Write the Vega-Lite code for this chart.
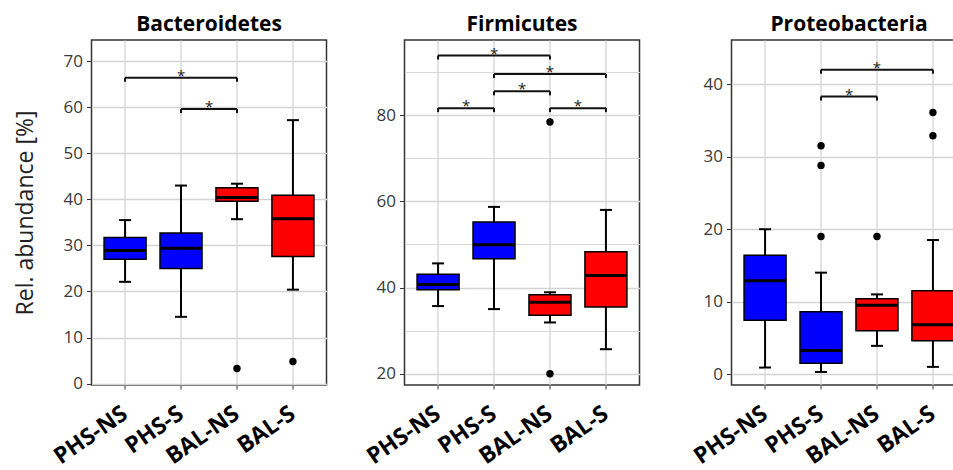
{
  "$schema": "https://vega.github.io/schema/vega-lite/v6.json",
  "padding": {"left": 12.5, "top": 13, "right": 0, "bottom": 0},
  "spacing": 20,
  "bounds": "full",
  "config": {
    "font": "Open Sans",
    "view": {"stroke": "#333333", "strokeWidth": 1.5},
    "axis": {"domain": false, "gridColor": "#d4d4d4", "tickColor": "#333333", "labelFont": "Open Sans", "titleFont": "Open Sans"},
    "axisX": {"labelAngle": -35, "labelAlign": "right", "labelBaseline": "middle", "labelPadding": 22, "labelFontSize": 23, "labelFontWeight": "bold", "labelColor": "#000000", "tickSize": 4, "gridWidth": 1.3},
    "axisY": {"tickSize": 5, "labelPadding": 4, "labelFontSize": 17, "labelColor": "#3a3a3a", "titleFontSize": 23, "titleFontWeight": "normal", "titleColor": "#222222", "labelOverlap": false},
    "title": {"font": "Open Sans", "fontSize": 21, "fontWeight": "bold", "color": "#000000", "baseline": "alphabetic", "offset": 5, "anchor": "middle"}
  },
  "datasets": {
    "boxes": [
      {"phylum": "Bacteroidetes", "group": "PHS-NS", "site": "PHS", "lower": 22.1, "q1": 27.0, "median": 28.9, "q3": 31.7, "upper": 35.5},
      {"phylum": "Bacteroidetes", "group": "PHS-S", "site": "PHS", "lower": 14.5, "q1": 25.0, "median": 29.4, "q3": 32.7, "upper": 43.0},
      {"phylum": "Bacteroidetes", "group": "BAL-NS", "site": "BAL", "lower": 35.7, "q1": 39.6, "median": 40.4, "q3": 42.5, "upper": 43.4},
      {"phylum": "Bacteroidetes", "group": "BAL-S", "site": "BAL", "lower": 20.4, "q1": 27.6, "median": 35.8, "q3": 40.9, "upper": 57.2},
      {"phylum": "Firmicutes", "group": "PHS-NS", "site": "PHS", "lower": 35.7, "q1": 39.5, "median": 40.7, "q3": 43.1, "upper": 45.6},
      {"phylum": "Firmicutes", "group": "PHS-S", "site": "PHS", "lower": 35.0, "q1": 46.7, "median": 49.9, "q3": 55.2, "upper": 58.7},
      {"phylum": "Firmicutes", "group": "BAL-NS", "site": "BAL", "lower": 31.9, "q1": 33.6, "median": 36.6, "q3": 38.3, "upper": 38.9},
      {"phylum": "Firmicutes", "group": "BAL-S", "site": "BAL", "lower": 25.7, "q1": 35.5, "median": 42.8, "q3": 48.3, "upper": 58.0},
      {"phylum": "Proteobacteria", "group": "PHS-NS", "site": "PHS", "lower": 0.9, "q1": 7.45, "median": 12.9, "q3": 16.4, "upper": 20.0},
      {"phylum": "Proteobacteria", "group": "PHS-S", "site": "PHS", "lower": 0.3, "q1": 1.5, "median": 3.25, "q3": 8.6, "upper": 14.0},
      {"phylum": "Proteobacteria", "group": "BAL-NS", "site": "BAL", "lower": 3.9, "q1": 6.0, "median": 9.5, "q3": 10.4, "upper": 11.0},
      {"phylum": "Proteobacteria", "group": "BAL-S", "site": "BAL", "lower": 1.0, "q1": 4.6, "median": 6.8, "q3": 11.5, "upper": 18.5}
    ],
    "outliers": [
      {"phylum": "Bacteroidetes", "group": "BAL-NS", "value": 3.3},
      {"phylum": "Bacteroidetes", "group": "BAL-S", "value": 4.8},
      {"phylum": "Firmicutes", "group": "BAL-NS", "value": 20.0},
      {"phylum": "Firmicutes", "group": "BAL-NS", "value": 78.4},
      {"phylum": "Proteobacteria", "group": "PHS-S", "value": 19.0},
      {"phylum": "Proteobacteria", "group": "PHS-S", "value": 28.8},
      {"phylum": "Proteobacteria", "group": "PHS-S", "value": 31.5},
      {"phylum": "Proteobacteria", "group": "BAL-NS", "value": 19.0},
      {"phylum": "Proteobacteria", "group": "BAL-S", "value": 32.9},
      {"phylum": "Proteobacteria", "group": "BAL-S", "value": 36.1}
    ],
    "brackets": [
      {"phylum": "Bacteroidetes", "from": "PHS-NS", "to": "BAL-NS", "y": 66.4, "span": 2},
      {"phylum": "Bacteroidetes", "from": "PHS-S", "to": "BAL-NS", "y": 59.6, "span": 1},
      {"phylum": "Firmicutes", "from": "PHS-NS", "to": "BAL-NS", "y": 93.8, "span": 2},
      {"phylum": "Firmicutes", "from": "PHS-S", "to": "BAL-S", "y": 89.5, "span": 2},
      {"phylum": "Firmicutes", "from": "PHS-S", "to": "BAL-NS", "y": 85.5, "span": 1},
      {"phylum": "Firmicutes", "from": "PHS-NS", "to": "PHS-S", "y": 81.6, "span": 1},
      {"phylum": "Firmicutes", "from": "BAL-NS", "to": "BAL-S", "y": 81.6, "span": 1},
      {"phylum": "Proteobacteria", "from": "PHS-S", "to": "BAL-S", "y": 42.0, "span": 2},
      {"phylum": "Proteobacteria", "from": "PHS-S", "to": "BAL-NS", "y": 38.3, "span": 1}
    ]
  },
  "hconcat": [
    {
      "width": 235, "height": 345,
      "title": {"text": "Bacteroidetes"},
      "layer": [
        {"data": {"name": "boxes"}, "transform": [{"filter": "datum.phylum === 'Bacteroidetes'"}],
         "mark": {"type": "rule", "strokeWidth": 2, "color": "#000000"},
         "encoding": {
           "x": {"field": "group", "type": "nominal", "scale": {"domain": ["PHS-NS", "PHS-S", "BAL-NS", "BAL-S"], "paddingInner": 0, "paddingOuter": 0.1}, "axis": {"title": null, "grid": true, "bandPosition": 0.5}},
           "y": {"field": "lower", "type": "quantitative", "scale": {"domain": [-0.3, 74.6], "nice": false, "zero": false},
                 "axis": {"title": "Rel. abundance [%]", "titlePadding": 26, "grid": true, "values": [0, 5, 10, 15, 20, 25, 30, 35, 40, 45, 50, 55, 60, 65, 70],
                          "labelExpr": "datum.value % 10 === 0 ? datum.label : ''",
                          "tickOpacity": {"condition": {"test": "datum.value % 10 === 0", "value": 1}, "value": 0},
                          "gridWidth": {"condition": {"test": "datum.value % 10 === 0", "value": 1.3}, "value": 0.9}}},
           "y2": {"field": "upper"}
         }},
        {"data": {"name": "boxes"}, "transform": [{"filter": "datum.phylum === 'Bacteroidetes'"}],
         "mark": {"type": "tick", "size": 12, "thickness": 2, "color": "#000000", "opacity": 1},
         "encoding": {
           "x": {"field": "group", "type": "nominal", "scale": {"domain": ["PHS-NS", "PHS-S", "BAL-NS", "BAL-S"], "paddingInner": 0, "paddingOuter": 0.1}},
           "y": {"field": "lower", "type": "quantitative", "scale": {"domain": [-0.3, 74.6], "nice": false, "zero": false}}
         }},
        {"data": {"name": "boxes"}, "transform": [{"filter": "datum.phylum === 'Bacteroidetes'"}],
         "mark": {"type": "tick", "size": 12, "thickness": 2, "color": "#000000", "opacity": 1},
         "encoding": {
           "x": {"field": "group", "type": "nominal", "scale": {"domain": ["PHS-NS", "PHS-S", "BAL-NS", "BAL-S"], "paddingInner": 0, "paddingOuter": 0.1}},
           "y": {"field": "upper", "type": "quantitative", "scale": {"domain": [-0.3, 74.6], "nice": false, "zero": false}}
         }},
        {"data": {"name": "boxes"}, "transform": [{"filter": "datum.phylum === 'Bacteroidetes'"}],
         "mark": {"type": "bar", "size": 42, "stroke": "#000000", "strokeWidth": 1.5, "opacity": 1},
         "encoding": {
           "x": {"field": "group", "type": "nominal", "scale": {"domain": ["PHS-NS", "PHS-S", "BAL-NS", "BAL-S"], "paddingInner": 0, "paddingOuter": 0.1}},
           "y": {"field": "q1", "type": "quantitative", "scale": {"domain": [-0.3, 74.6], "nice": false, "zero": false}},
           "y2": {"field": "q3"},
           "fill": {"field": "site", "type": "nominal", "scale": {"domain": ["PHS", "BAL"], "range": ["#0000FF", "#FF0000"]}, "legend": null}
         }},
        {"data": {"name": "boxes"}, "transform": [{"filter": "datum.phylum === 'Bacteroidetes'"}],
         "mark": {"type": "tick", "size": 42, "thickness": 3, "color": "#000000", "opacity": 1},
         "encoding": {
           "x": {"field": "group", "type": "nominal", "scale": {"domain": ["PHS-NS", "PHS-S", "BAL-NS", "BAL-S"], "paddingInner": 0, "paddingOuter": 0.1}},
           "y": {"field": "median", "type": "quantitative", "scale": {"domain": [-0.3, 74.6], "nice": false, "zero": false}}
         }},
        {"data": {"name": "outliers"}, "transform": [{"filter": "datum.phylum === 'Bacteroidetes'"}],
         "mark": {"type": "point", "filled": true, "size": 55, "color": "#000000", "opacity": 1},
         "encoding": {
           "x": {"field": "group", "type": "nominal", "scale": {"domain": ["PHS-NS", "PHS-S", "BAL-NS", "BAL-S"], "paddingInner": 0, "paddingOuter": 0.1}},
           "y": {"field": "value", "type": "quantitative", "scale": {"domain": [-0.3, 74.6], "nice": false, "zero": false}}
         }},
        {"data": {"name": "brackets"}, "transform": [{"filter": "datum.phylum === 'Bacteroidetes'"}],
         "mark": {"type": "rule", "strokeWidth": 2, "color": "#111111"},
         "encoding": {
           "x": {"field": "from", "type": "nominal", "bandPosition": 0.5, "scale": {"domain": ["PHS-NS", "PHS-S", "BAL-NS", "BAL-S"], "paddingInner": 0, "paddingOuter": 0.1}},
           "x2": {"field": "to", "bandPosition": 0.5},
           "y": {"field": "y", "type": "quantitative", "scale": {"domain": [-0.3, 74.6], "nice": false, "zero": false}}
         }},
        {"data": {"name": "brackets"}, "transform": [{"filter": "datum.phylum === 'Bacteroidetes'"}],
         "mark": {"type": "rule", "strokeWidth": 2, "color": "#111111", "y2Offset": 4},
         "encoding": {
           "x": {"field": "from", "type": "nominal", "bandPosition": 0.5, "scale": {"domain": ["PHS-NS", "PHS-S", "BAL-NS", "BAL-S"], "paddingInner": 0, "paddingOuter": 0.1}},
           "y": {"field": "y", "type": "quantitative", "scale": {"domain": [-0.3, 74.6], "nice": false, "zero": false}},
           "y2": {"field": "y"}
         }},
        {"data": {"name": "brackets"}, "transform": [{"filter": "datum.phylum === 'Bacteroidetes'"}],
         "mark": {"type": "rule", "strokeWidth": 2, "color": "#111111", "y2Offset": 4},
         "encoding": {
           "x": {"field": "to", "type": "nominal", "bandPosition": 0.5, "scale": {"domain": ["PHS-NS", "PHS-S", "BAL-NS", "BAL-S"], "paddingInner": 0, "paddingOuter": 0.1}},
           "y": {"field": "y", "type": "quantitative", "scale": {"domain": [-0.3, 74.6], "nice": false, "zero": false}},
           "y2": {"field": "y"}
         }},
        {"data": {"name": "brackets"}, "transform": [{"filter": "datum.phylum === 'Bacteroidetes' && datum.span === 1"}],
         "mark": {"type": "text", "text": "*", "fontSize": 15, "color": "#222222", "baseline": "alphabetic", "dy": 3},
         "encoding": {
           "x": {"field": "from", "type": "nominal", "bandPosition": 1, "scale": {"domain": ["PHS-NS", "PHS-S", "BAL-NS", "BAL-S"], "paddingInner": 0, "paddingOuter": 0.1}},
           "y": {"field": "y", "type": "quantitative", "scale": {"domain": [-0.3, 74.6], "nice": false, "zero": false}}
         }},
        {"data": {"name": "brackets"}, "transform": [{"filter": "datum.phylum === 'Bacteroidetes' && datum.span === 2"}],
         "mark": {"type": "text", "text": "*", "fontSize": 15, "color": "#222222", "baseline": "alphabetic", "dy": 3},
         "encoding": {
           "x": {"field": "from", "type": "nominal", "bandPosition": 1.5, "scale": {"domain": ["PHS-NS", "PHS-S", "BAL-NS", "BAL-S"], "paddingInner": 0, "paddingOuter": 0.1}},
           "y": {"field": "y", "type": "quantitative", "scale": {"domain": [-0.3, 74.6], "nice": false, "zero": false}}
         }}
      ]
    },
    {
      "width": 235, "height": 345,
      "title": {"text": "Firmicutes"},
      "layer": [
        {"data": {"name": "boxes"}, "transform": [{"filter": "datum.phylum === 'Firmicutes'"}],
         "mark": {"type": "rule", "strokeWidth": 2, "color": "#000000"},
         "encoding": {
           "x": {"field": "group", "type": "nominal", "scale": {"domain": ["PHS-NS", "PHS-S", "BAL-NS", "BAL-S"], "paddingInner": 0, "paddingOuter": 0.1}, "axis": {"title": null, "grid": true, "bandPosition": 0.5}},
           "y": {"field": "lower", "type": "quantitative", "scale": {"domain": [17.4, 97.4], "nice": false, "zero": false},
                 "axis": {"title": null, "minExtent": 56, "grid": true, "values": [20, 30, 40, 50, 60, 70, 80, 90],
                          "labelExpr": "datum.value % 20 === 0 ? datum.label : ''",
                          "tickOpacity": {"condition": {"test": "datum.value % 20 === 0", "value": 1}, "value": 0},
                          "gridWidth": {"condition": {"test": "datum.value % 20 === 0", "value": 1.3}, "value": 0.9}}},
           "y2": {"field": "upper"}
         }},
        {"data": {"name": "boxes"}, "transform": [{"filter": "datum.phylum === 'Firmicutes'"}],
         "mark": {"type": "tick", "size": 12, "thickness": 2, "color": "#000000", "opacity": 1},
         "encoding": {
           "x": {"field": "group", "type": "nominal", "scale": {"domain": ["PHS-NS", "PHS-S", "BAL-NS", "BAL-S"], "paddingInner": 0, "paddingOuter": 0.1}},
           "y": {"field": "lower", "type": "quantitative", "scale": {"domain": [17.4, 97.4], "nice": false, "zero": false}}
         }},
        {"data": {"name": "boxes"}, "transform": [{"filter": "datum.phylum === 'Firmicutes'"}],
         "mark": {"type": "tick", "size": 12, "thickness": 2, "color": "#000000", "opacity": 1},
         "encoding": {
           "x": {"field": "group", "type": "nominal", "scale": {"domain": ["PHS-NS", "PHS-S", "BAL-NS", "BAL-S"], "paddingInner": 0, "paddingOuter": 0.1}},
           "y": {"field": "upper", "type": "quantitative", "scale": {"domain": [17.4, 97.4], "nice": false, "zero": false}}
         }},
        {"data": {"name": "boxes"}, "transform": [{"filter": "datum.phylum === 'Firmicutes'"}],
         "mark": {"type": "bar", "size": 42, "stroke": "#000000", "strokeWidth": 1.5, "opacity": 1},
         "encoding": {
           "x": {"field": "group", "type": "nominal", "scale": {"domain": ["PHS-NS", "PHS-S", "BAL-NS", "BAL-S"], "paddingInner": 0, "paddingOuter": 0.1}},
           "y": {"field": "q1", "type": "quantitative", "scale": {"domain": [17.4, 97.4], "nice": false, "zero": false}},
           "y2": {"field": "q3"},
           "fill": {"field": "site", "type": "nominal", "scale": {"domain": ["PHS", "BAL"], "range": ["#0000FF", "#FF0000"]}, "legend": null}
         }},
        {"data": {"name": "boxes"}, "transform": [{"filter": "datum.phylum === 'Firmicutes'"}],
         "mark": {"type": "tick", "size": 42, "thickness": 3, "color": "#000000", "opacity": 1},
         "encoding": {
           "x": {"field": "group", "type": "nominal", "scale": {"domain": ["PHS-NS", "PHS-S", "BAL-NS", "BAL-S"], "paddingInner": 0, "paddingOuter": 0.1}},
           "y": {"field": "median", "type": "quantitative", "scale": {"domain": [17.4, 97.4], "nice": false, "zero": false}}
         }},
        {"data": {"name": "outliers"}, "transform": [{"filter": "datum.phylum === 'Firmicutes'"}],
         "mark": {"type": "point", "filled": true, "size": 55, "color": "#000000", "opacity": 1},
         "encoding": {
           "x": {"field": "group", "type": "nominal", "scale": {"domain": ["PHS-NS", "PHS-S", "BAL-NS", "BAL-S"], "paddingInner": 0, "paddingOuter": 0.1}},
           "y": {"field": "value", "type": "quantitative", "scale": {"domain": [17.4, 97.4], "nice": false, "zero": false}}
         }},
        {"data": {"name": "brackets"}, "transform": [{"filter": "datum.phylum === 'Firmicutes'"}],
         "mark": {"type": "rule", "strokeWidth": 2, "color": "#111111"},
         "encoding": {
           "x": {"field": "from", "type": "nominal", "bandPosition": 0.5, "scale": {"domain": ["PHS-NS", "PHS-S", "BAL-NS", "BAL-S"], "paddingInner": 0, "paddingOuter": 0.1}},
           "x2": {"field": "to", "bandPosition": 0.5},
           "y": {"field": "y", "type": "quantitative", "scale": {"domain": [17.4, 97.4], "nice": false, "zero": false}}
         }},
        {"data": {"name": "brackets"}, "transform": [{"filter": "datum.phylum === 'Firmicutes'"}],
         "mark": {"type": "rule", "strokeWidth": 2, "color": "#111111", "y2Offset": 4},
         "encoding": {
           "x": {"field": "from", "type": "nominal", "bandPosition": 0.5, "scale": {"domain": ["PHS-NS", "PHS-S", "BAL-NS", "BAL-S"], "paddingInner": 0, "paddingOuter": 0.1}},
           "y": {"field": "y", "type": "quantitative", "scale": {"domain": [17.4, 97.4], "nice": false, "zero": false}},
           "y2": {"field": "y"}
         }},
        {"data": {"name": "brackets"}, "transform": [{"filter": "datum.phylum === 'Firmicutes'"}],
         "mark": {"type": "rule", "strokeWidth": 2, "color": "#111111", "y2Offset": 4},
         "encoding": {
           "x": {"field": "to", "type": "nominal", "bandPosition": 0.5, "scale": {"domain": ["PHS-NS", "PHS-S", "BAL-NS", "BAL-S"], "paddingInner": 0, "paddingOuter": 0.1}},
           "y": {"field": "y", "type": "quantitative", "scale": {"domain": [17.4, 97.4], "nice": false, "zero": false}},
           "y2": {"field": "y"}
         }},
        {"data": {"name": "brackets"}, "transform": [{"filter": "datum.phylum === 'Firmicutes' && datum.span === 1"}],
         "mark": {"type": "text", "text": "*", "fontSize": 15, "color": "#222222", "baseline": "alphabetic", "dy": 3},
         "encoding": {
           "x": {"field": "from", "type": "nominal", "bandPosition": 1, "scale": {"domain": ["PHS-NS", "PHS-S", "BAL-NS", "BAL-S"], "paddingInner": 0, "paddingOuter": 0.1}},
           "y": {"field": "y", "type": "quantitative", "scale": {"domain": [17.4, 97.4], "nice": false, "zero": false}}
         }},
        {"data": {"name": "brackets"}, "transform": [{"filter": "datum.phylum === 'Firmicutes' && datum.span === 2"}],
         "mark": {"type": "text", "text": "*", "fontSize": 15, "color": "#222222", "baseline": "alphabetic", "dy": 3},
         "encoding": {
           "x": {"field": "from", "type": "nominal", "bandPosition": 1.5, "scale": {"domain": ["PHS-NS", "PHS-S", "BAL-NS", "BAL-S"], "paddingInner": 0, "paddingOuter": 0.1}},
           "y": {"field": "y", "type": "quantitative", "scale": {"domain": [17.4, 97.4], "nice": false, "zero": false}}
         }}
      ]
    },
    {
      "width": 235, "height": 345,
      "title": {"text": "Proteobacteria"},
      "layer": [
        {"data": {"name": "boxes"}, "transform": [{"filter": "datum.phylum === 'Proteobacteria'"}],
         "mark": {"type": "rule", "strokeWidth": 2, "color": "#000000"},
         "encoding": {
           "x": {"field": "group", "type": "nominal", "scale": {"domain": ["PHS-NS", "PHS-S", "BAL-NS", "BAL-S"], "paddingInner": 0, "paddingOuter": 0.1}, "axis": {"title": null, "grid": true, "bandPosition": 0.5}},
           "y": {"field": "lower", "type": "quantitative", "scale": {"domain": [-1.5, 46.1], "nice": false, "zero": false},
                 "axis": {"title": null, "minExtent": 70, "grid": true, "values": [0, 5, 10, 15, 20, 25, 30, 35, 40, 45],
                          "labelExpr": "datum.value % 10 === 0 ? datum.label : ''",
                          "tickOpacity": {"condition": {"test": "datum.value % 10 === 0", "value": 1}, "value": 0},
                          "gridWidth": {"condition": {"test": "datum.value % 10 === 0", "value": 1.3}, "value": 0.9}}},
           "y2": {"field": "upper"}
         }},
        {"data": {"name": "boxes"}, "transform": [{"filter": "datum.phylum === 'Proteobacteria'"}],
         "mark": {"type": "tick", "size": 12, "thickness": 2, "color": "#000000", "opacity": 1},
         "encoding": {
           "x": {"field": "group", "type": "nominal", "scale": {"domain": ["PHS-NS", "PHS-S", "BAL-NS", "BAL-S"], "paddingInner": 0, "paddingOuter": 0.1}},
           "y": {"field": "lower", "type": "quantitative", "scale": {"domain": [-1.5, 46.1], "nice": false, "zero": false}}
         }},
        {"data": {"name": "boxes"}, "transform": [{"filter": "datum.phylum === 'Proteobacteria'"}],
         "mark": {"type": "tick", "size": 12, "thickness": 2, "color": "#000000", "opacity": 1},
         "encoding": {
           "x": {"field": "group", "type": "nominal", "scale": {"domain": ["PHS-NS", "PHS-S", "BAL-NS", "BAL-S"], "paddingInner": 0, "paddingOuter": 0.1}},
           "y": {"field": "upper", "type": "quantitative", "scale": {"domain": [-1.5, 46.1], "nice": false, "zero": false}}
         }},
        {"data": {"name": "boxes"}, "transform": [{"filter": "datum.phylum === 'Proteobacteria'"}],
         "mark": {"type": "bar", "size": 42, "stroke": "#000000", "strokeWidth": 1.5, "opacity": 1},
         "encoding": {
           "x": {"field": "group", "type": "nominal", "scale": {"domain": ["PHS-NS", "PHS-S", "BAL-NS", "BAL-S"], "paddingInner": 0, "paddingOuter": 0.1}},
           "y": {"field": "q1", "type": "quantitative", "scale": {"domain": [-1.5, 46.1], "nice": false, "zero": false}},
           "y2": {"field": "q3"},
           "fill": {"field": "site", "type": "nominal", "scale": {"domain": ["PHS", "BAL"], "range": ["#0000FF", "#FF0000"]}, "legend": null}
         }},
        {"data": {"name": "boxes"}, "transform": [{"filter": "datum.phylum === 'Proteobacteria'"}],
         "mark": {"type": "tick", "size": 42, "thickness": 3, "color": "#000000", "opacity": 1},
         "encoding": {
           "x": {"field": "group", "type": "nominal", "scale": {"domain": ["PHS-NS", "PHS-S", "BAL-NS", "BAL-S"], "paddingInner": 0, "paddingOuter": 0.1}},
           "y": {"field": "median", "type": "quantitative", "scale": {"domain": [-1.5, 46.1], "nice": false, "zero": false}}
         }},
        {"data": {"name": "outliers"}, "transform": [{"filter": "datum.phylum === 'Proteobacteria'"}],
         "mark": {"type": "point", "filled": true, "size": 55, "color": "#000000", "opacity": 1},
         "encoding": {
           "x": {"field": "group", "type": "nominal", "scale": {"domain": ["PHS-NS", "PHS-S", "BAL-NS", "BAL-S"], "paddingInner": 0, "paddingOuter": 0.1}},
           "y": {"field": "value", "type": "quantitative", "scale": {"domain": [-1.5, 46.1], "nice": false, "zero": false}}
         }},
        {"data": {"name": "brackets"}, "transform": [{"filter": "datum.phylum === 'Proteobacteria'"}],
         "mark": {"type": "rule", "strokeWidth": 2, "color": "#111111"},
         "encoding": {
           "x": {"field": "from", "type": "nominal", "bandPosition": 0.5, "scale": {"domain": ["PHS-NS", "PHS-S", "BAL-NS", "BAL-S"], "paddingInner": 0, "paddingOuter": 0.1}},
           "x2": {"field": "to", "bandPosition": 0.5},
           "y": {"field": "y", "type": "quantitative", "scale": {"domain": [-1.5, 46.1], "nice": false, "zero": false}}
         }},
        {"data": {"name": "brackets"}, "transform": [{"filter": "datum.phylum === 'Proteobacteria'"}],
         "mark": {"type": "rule", "strokeWidth": 2, "color": "#111111", "y2Offset": 4},
         "encoding": {
           "x": {"field": "from", "type": "nominal", "bandPosition": 0.5, "scale": {"domain": ["PHS-NS", "PHS-S", "BAL-NS", "BAL-S"], "paddingInner": 0, "paddingOuter": 0.1}},
           "y": {"field": "y", "type": "quantitative", "scale": {"domain": [-1.5, 46.1], "nice": false, "zero": false}},
           "y2": {"field": "y"}
         }},
        {"data": {"name": "brackets"}, "transform": [{"filter": "datum.phylum === 'Proteobacteria'"}],
         "mark": {"type": "rule", "strokeWidth": 2, "color": "#111111", "y2Offset": 4},
         "encoding": {
           "x": {"field": "to", "type": "nominal", "bandPosition": 0.5, "scale": {"domain": ["PHS-NS", "PHS-S", "BAL-NS", "BAL-S"], "paddingInner": 0, "paddingOuter": 0.1}},
           "y": {"field": "y", "type": "quantitative", "scale": {"domain": [-1.5, 46.1], "nice": false, "zero": false}},
           "y2": {"field": "y"}
         }},
        {"data": {"name": "brackets"}, "transform": [{"filter": "datum.phylum === 'Proteobacteria' && datum.span === 1"}],
         "mark": {"type": "text", "text": "*", "fontSize": 15, "color": "#222222", "baseline": "alphabetic", "dy": 3},
         "encoding": {
           "x": {"field": "from", "type": "nominal", "bandPosition": 1, "scale": {"domain": ["PHS-NS", "PHS-S", "BAL-NS", "BAL-S"], "paddingInner": 0, "paddingOuter": 0.1}},
           "y": {"field": "y", "type": "quantitative", "scale": {"domain": [-1.5, 46.1], "nice": false, "zero": false}}
         }},
        {"data": {"name": "brackets"}, "transform": [{"filter": "datum.phylum === 'Proteobacteria' && datum.span === 2"}],
         "mark": {"type": "text", "text": "*", "fontSize": 15, "color": "#222222", "baseline": "alphabetic", "dy": 3},
         "encoding": {
           "x": {"field": "from", "type": "nominal", "bandPosition": 1.5, "scale": {"domain": ["PHS-NS", "PHS-S", "BAL-NS", "BAL-S"], "paddingInner": 0, "paddingOuter": 0.1}},
           "y": {"field": "y", "type": "quantitative", "scale": {"domain": [-1.5, 46.1], "nice": false, "zero": false}}
         }}
      ]
    }
  ]
}
